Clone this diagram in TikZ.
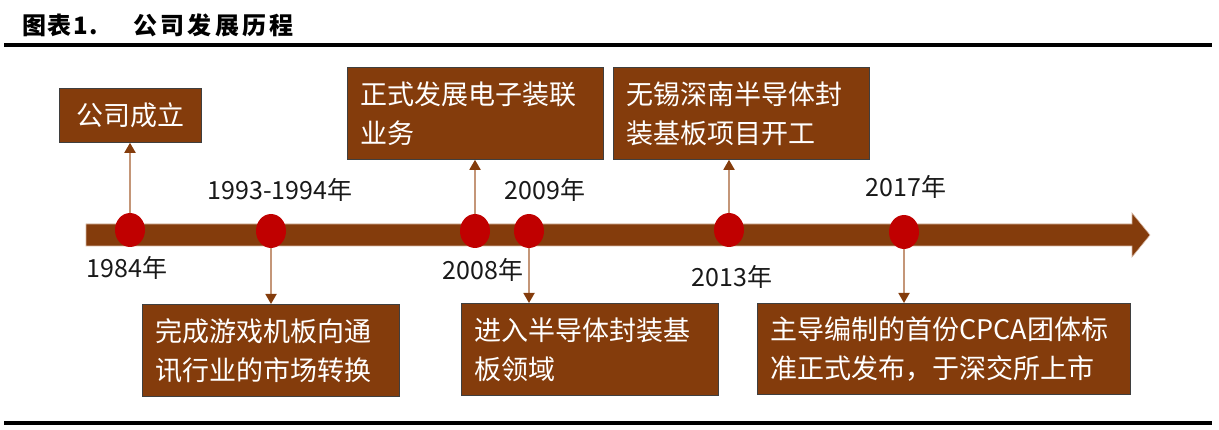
\documentclass[tikz,border=0pt]{standalone}
\usepackage{fontspec}
\setmainfont{Noto Sans CJK SC}
\newfontfamily\titlefont[LetterSpace=14]{Noto Sans CJK SC}
\newfontfamily\titlelabelfont[LetterSpace=6]{Noto Sans CJK SC}
\usetikzlibrary{arrows.meta,shapes.geometric}
\definecolor{barbrown}{HTML}{843C0C}
\definecolor{dotred}{HTML}{C00000}
\definecolor{linktan}{RGB}{196,150,120}
\definecolor{boxedge}{HTML}{3F3F3F}
\begin{document}
\begin{tikzpicture}[x=1pt,y=-1pt,
  rule/.style={line width=3.5pt,black},
  dot/.style={ellipse,fill=dotred,minimum width=30pt,minimum height=34pt,inner sep=0pt},
  year/.style={font=\fontsize{25}{28}\selectfont,text=black!90,inner sep=0pt},
  event/.style={draw=boxedge,line width=0.8pt,fill=barbrown,text=white,
    font=\fontsize{27}{39}\selectfont,align=left,inner xsep=13pt,inner ysep=0pt,
    minimum height=92pt,anchor=north west},
  link/.style={draw=linktan,line width=1.8pt,
    -{Triangle[width=11pt,length=10pt,color=barbrown,fill=barbrown]}}
]
\useasboundingbox (0,0) rectangle (1219,430);

% heading and rules
\node[anchor=west,inner sep=0pt,font=\titlelabelfont\bfseries\fontsize{24}{26}\selectfont] (ttl) at (22,25) {图表1.};
\node[anchor=west,inner sep=0pt,font=\titlefont\bfseries\fontsize{24}{26}\selectfont] (ttl2) at (133,25) {公司发展历程};
\draw[rule] (4,45) -- (1212,45);
\draw[rule] (4,423) -- (1212,423);

% timeline arrow
\fill[barbrown,draw=linktan!70,line width=0.6pt]
  (86,224) -- (1132,224) -- (1132,213) -- (1150,235) -- (1132,257) -- (1132,246) -- (86,246) -- cycle;

% milestone positions
\path (130,230) coordinate (p1) (271,231) coordinate (p2) (475,231) coordinate (p3)
      (529,231) coordinate (p4) (729,230) coordinate (p5) (904,232) coordinate (p6);

% year labels
\node[year] (y1) at (127,268) {1984年};
\node[year] (y2) at (280,190) {1993-1994年};
\node[year] (y3) at (483,270) {2008年};
\node[year] (y4) at (545,190) {2009年};
\node[year] (y5) at (732,277) {2013年};
\node[year] (y6) at (906,187) {2017年};

% event boxes
\node[event,text width=116pt,align=center,minimum height=54pt] (e1) at (59,88) {公司成立};
\node[event,text width=230pt] (e2) at (347,67) {正式发展电子装联\\业务};
\node[event,text width=230pt] (e3) at (613,67) {无锡深南半导体封\\装基板项目开工};
\node[event,text width=231pt] (e4) at (142,304) {完成游戏机板向通\\讯行业的市场转换};
\node[event,text width=231pt] (e5) at (461,303) {进入半导体封装基\\板领域};
\node[event,text width=347pt,minimum height=91pt] (e6) at (757,303) {主导编制的首份CPCA团体标\\准正式发布，于深交所上市};

% connectors from milestones to boxes
\draw[link] (p1) -- (e1.south -| p1);
\draw[link] (p2) -- (e4.north -| p2);
\draw[link] (p3) -- (e2.south -| p3);
\draw[link] (p4) -- (e5.north -| p4);
\draw[link] (p5) -- (e3.south -| p5);
\draw[link] (p6) -- (e6.north -| p6);

% dots drawn over the connector ends
\node[dot] (d1) at (p1) {};
\node[dot] (d2) at (p2) {};
\node[dot] (d3) at (p3) {};
\node[dot] (d4) at (p4) {};
\node[dot] (d5) at (p5) {};
\node[dot] (d6) at (p6) {};
\end{tikzpicture}
\end{document}
